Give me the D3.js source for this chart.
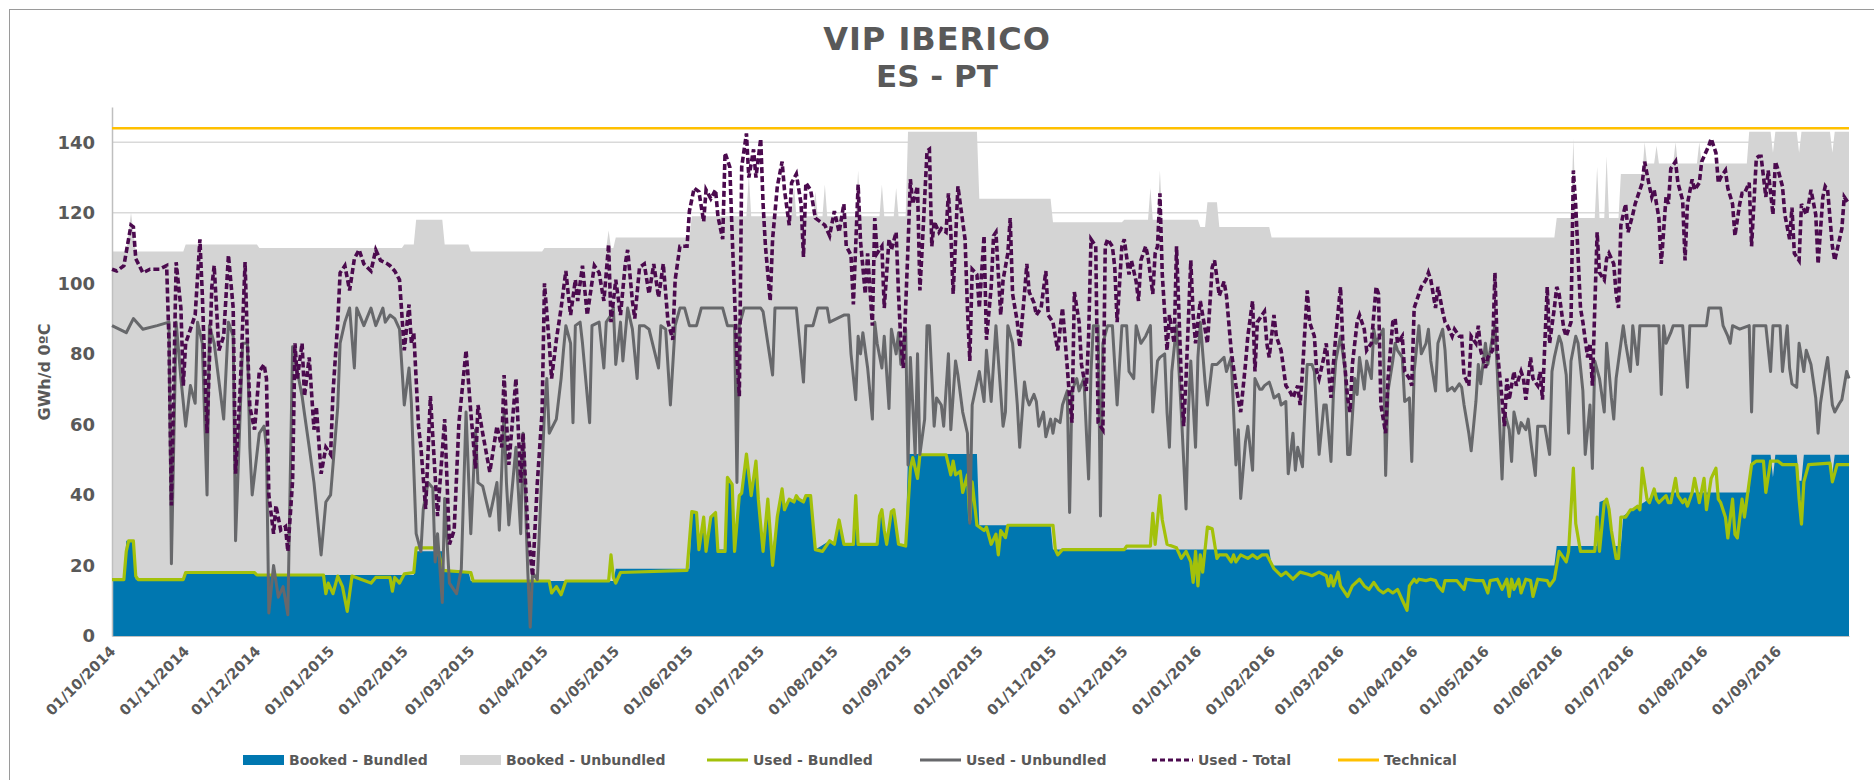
<!DOCTYPE html>
<html>
<head>
<meta charset="utf-8">
<script src="https://cdn.jsdelivr.net/npm/d3@7"></script>
<style>
  body { margin: 0; background: #fff; }
  #chart text { font-family: "DejaVu Sans", Verdana, sans-serif; font-weight: bold; fill: #595959; }
</style>
</head>
<body>
<div id="chart"></div>
<script>
// every series is a list of [day, value] with day counted from 01/10/2014, values in GWh/d
const startDate = new Date(2014, 9, 1);
const endDate = new Date(2016, 9, 1);

const tickLabels = ["01/10/2014", "01/11/2014", "01/12/2014", "01/01/2015", "01/02/2015", "01/03/2015",
  "01/04/2015", "01/05/2015", "01/06/2015", "01/07/2015", "01/08/2015", "01/09/2015",
  "01/10/2015", "01/11/2015", "01/12/2015", "01/01/2016", "01/02/2016", "01/03/2016",
  "01/04/2016", "01/05/2016", "01/06/2016", "01/07/2016", "01/08/2016", "01/09/2016"];
const yTicks = [0, 20, 40, 60, 80, 100, 120, 140];

const technical = 144;

// top of the stacked booked area (bundled + unbundled)
const bookedTotal = [[0,109],[6,109],[8,120],[10,109],[30,109],[31,111],[61,111],[62,110],[122,110],[123,111],[127,111],[128,118],[139,118],[140,111],[150,111],[151,109],[181,109],[182,110],[208,110],[209,115],[210,110],[211,110],[212,113],[243,113],[244,119],[267,119],[268,131],[269,119],[286,119],[287,128],[288,119],[295,119],[296,126],[297,119],[299,119],[300,128],[301,119],[313,119],[314,132],[315,119],[323,119],[324,128],[325,119],[329,119],[330,127],[331,119],[334,119],[335,143],[364,143],[365,124],[395,124],[396,117.3],[425,117.3],[426,118],[436,118],[437,127],[438,118],[440,118],[441,132],[442,118],[457,118],[458,116],[460,116],[461,123],[465,123],[466,116],[487,116],[488,113],[607,113],[608,118.5],[614,118.5],[615,141],[616,118.5],[624,118.5],[625,133],[626,118.5],[628,118.5],[629,136],[630,118.5],[634,118.5],[635,131],[644,131],[645,140],[646,134],[649,134],[650,139],[651,134],[657,134],[658,140],[659,134],[667,134],[668,140],[669,134],[688,134],[689,143],[698,143],[699,137],[700,143],[709,143],[710,137],[711,143],[723,143],[724,137],[725,143],[731,143]];

const bookedBundled = [[0,16],[5,16],[6,27],[9,27],[10,16],[30,16],[31,18],[60,18],[61,17.3],[127,17.3],[128,24],[139,24],[140,18.3],[150,18.3],[151,15.6],[211,15.6],[212,19.1],[243,19.1],[244,35.3],[246,35],[247,24.5],[249,33.7],[250,24.5],[252,33.7],[254,35],[255,24.5],[258,24.5],[259,45],[261,43],[262,24.5],[264,39.8],[265,40.5],[267,51.6],[269,39.8],[271,49.6],[272,38.8],[274,24.5],[276,38.8],[278,24.5],[280,33.9],[282,41.7],[283,35.8],[285,38.8],[287,38],[288,39.8],[289,38.8],[291,38],[292,39.8],[294,39.8],[296,24.5],[302,27],[304,26],[306,32.9],[308,26],[312,26],[313,39.8],[314,26],[322,26],[323,34],[324,35.8],[325,30],[326,26],[328,35.3],[329,35.8],[331,26],[334,26],[335,51.6],[364,51.6],[365,31.4],[395,31.4],[396,24.5],[487,24.5],[488,20],[607,20],[608,25.5],[625,25.5],[626,38],[629,38.8],[630,36],[631,30],[632,25.5],[635,25.5],[636,34],[640,36],[645,38],[650,40.7],[689,40.7],[690,51.4],[698,51.4],[699,45],[700,51.4],[709,51.4],[710,44],[711,44],[712,51.4],[723,51.4],[724,46],[725,51.4],[731,51.4]];

const usedBundled = [[0,16],[5,16],[6,24],[7,27],[9,27],[10,17],[11,16],[30,16],[31,18],[60,18],[61,17.3],[89,17.3],[90,12],[91,15],[93,12],[95,17],[97,14],[99,7],[101,17],[109,15],[111,16.6],[117,16.6],[118,12.7],[119,16.6],[121,15],[123,17.6],[127,18],[128,25],[137,25],[138,22],[139,18.6],[151,18],[152,15.6],[184,15.6],[185,12.2],[187,14],[189,11.7],[191,15.6],[209,15.6],[210,23],[211,16.6],[212,15],[214,18],[242,18.6],[244,35.3],[246,35],[247,24.5],[249,33.7],[250,24],[252,33.7],[254,35],[255,24],[258,24],[259,45],[261,43],[262,24],[264,39.8],[265,40.5],[267,51.6],[269,39.8],[271,49.6],[272,38.8],[274,24],[276,38.8],[278,20],[280,33.9],[282,41.7],[283,35.8],[285,38.8],[287,38],[288,39.8],[289,38.8],[291,38],[292,39.8],[294,39.8],[296,24.5],[299,24],[302,27],[304,26],[306,32.9],[308,26],[312,26],[313,39.8],[314,26],[322,26],[323,34],[324,35.8],[325,30],[326,26],[328,35.3],[329,35.8],[331,26],[334,25.5],[336,47.6],[337,50.6],[339,44.7],[340,51.4],[351,51.4],[353,45.7],[354,49.6],[355,45.7],[357,46.7],[358,40.7],[360,45.7],[361,32.9],[362,43.7],[364,31.4],[367,29.9],[368,30.9],[370,26],[372,28.9],[373,23],[374,29.9],[376,27.9],[377,31.4],[396,31.4],[397,24.5],[398,23],[400,24.5],[426,24.5],[427,25.5],[437,25.5],[438,34.8],[439,26],[441,39.8],[442,32.9],[444,26],[448,25],[450,22],[452,24],[454,21],[455,15.2],[456,24],[457,14.2],[458,23],[459,18.1],[461,30.9],[463,30.4],[465,22],[466,23],[469,23],[471,21],[472,23],[473,21],[475,23],[478,22],[480,23],[482,22],[484,23],[486,23],[489,19.1],[492,17.1],[494,18.1],[497,16.1],[500,18.1],[503,17.6],[505,17.1],[508,18.1],[511,17.1],[512,14.2],[513,17.1],[514,14.2],[516,18.1],[517,14.2],[520,11.2],[522,14.2],[525,16.1],[527,14.2],[529,13.2],[531,15.2],[533,13.2],[535,12.2],[537,13.2],[539,12.2],[541,13.2],[543,10.2],[545,7.3],[546,14.2],[548,16.1],[549,15.2],[550,16.1],[553,15.7],[555,16.1],[557,15.7],[558,14.2],[560,12.7],[561,15.7],[566,15.7],[569,13.2],[570,16.1],[574,15.7],[577,15.7],[579,12.2],[580,15.7],[583,16.1],[585,13.2],[587,16.1],[588,11.2],[589,16.1],[590,13.2],[592,16.1],[593,12.2],[595,16.1],[597,15.7],[598,11.2],[600,16.1],[604,15.7],[605,14.2],[607,16.1],[608,20],[609,24],[611,22],[612,21],[613,24],[615,47.6],[616,31.9],[618,24],[624,24],[625,33.7],[626,24],[628,37.8],[629,38.8],[630,36],[631,30],[633,22],[634,22],[635,33.7],[637,33.7],[639,35.8],[640,35.8],[642,36.8],[643,35.8],[644,47.6],[646,38.8],[647,37.8],[649,41.7],[650,38.8],[651,37.8],[654,39.8],[655,37.8],[656,37.8],[658,44.7],[659,39.8],[661,37.8],[662,38.8],[663,36.8],[665,40.7],[666,44.7],[668,37.8],[670,44.7],[671,35.8],[673,44.7],[675,47.6],[676,38.8],[677,37.8],[679,33.7],[680,27.8],[682,38.8],[683,28.8],[684,27.8],[686,38.8],[687,33.7],[689,43.7],[690,48.6],[692,49.6],[695,49.6],[696,40.7],[698,49.6],[701,49.6],[703,48.6],[709,48.6],[710,38.8],[711,31.7],[712,43.7],[714,48.6],[723,49],[724,43.7],[726,48.6],[731,48.6]];

const usedUnbundled = [[0,88],[3,87],[6,86],[9,90],[13,87],[19,88],[24,89],[25,20.5],[27,89],[29,73],[31,59.5],[33,71],[35,66],[36,89],[38,83],[40,40],[41,88],[43,83],[47,61.5],[49,89],[51,85],[52,27],[55,83],[57,83],[58,53.5],[59,40],[62,57.5],[64,59.5],[65,53.5],[66,6.5],[68,20],[70,11],[72,14],[74,6],[76,82],[78,75],[80,68],[81,63],[83,53.5],[85,43.5],[88,23],[90,38],[92,40],[95,65],[96,83],[98,89],[100,93],[102,76],[103,93],[106,88],[109,93],[111,88],[114,93],[115,89],[117,91],[119,90],[121,87],[123,65.5],[125,76],[126,66],[128,29],[130,24],[131,36],[133,43.5],[135,42],[136,21],[137,29],[139,9.5],[140,39],[142,15],[145,12],[147,19],[149,63.5],[151,29],[153,58.5],[154,43.5],[156,42.5],[159,34],[162,43.5],[163,30],[165,63.5],[166,43.5],[167,31.5],[170,53.5],[172,29],[173,57.5],[175,18],[176,2.5],[177,18],[179,16],[182,63.5],[183,73],[184,57.5],[187,61.5],[189,73],[190,81],[191,88],[193,83],[194,60.5],[195,88],[197,89],[198,83],[201,60.5],[202,88],[205,89],[207,76],[208,89],[210,91],[211,93],[212,77],[214,89],[215,78],[217,93],[219,87],[221,73],[222,88],[224,88],[226,87],[230,76],[231,88],[233,87],[235,65.5],[237,88],[239,93],[241,93],[243,88],[246,88],[248,93],[257,93],[259,88],[262,88],[263,43.5],[264,88],[266,93],[273,93],[274,92],[276,83],[278,74],[279,93],[288,93],[290,79],[291,72],[292,88],[295,88],[297,93],[301,93],[302,89],[305,90],[308,91],[310,91],[311,80],[313,67],[314,85],[315,80],[316,86],[318,76],[320,61.5],[321,89],[322,83],[324,76],[325,85],[327,64.5],[328,87],[330,80],[331,86],[332,77],[334,87],[335,48.5],[336,79],[338,51.5],[339,80],[340,51.5],[342,61.5],[343,88],[344,88],[346,59.5],[347,67.5],[349,65.5],[350,59.5],[352,80],[353,58.5],[355,78],[356,74],[358,63.5],[360,57.5],[361,32],[362,65.5],[365,75],[367,66.5],[368,81],[370,66.5],[372,88],[375,59.5],[376,63.5],[377,88],[379,83],[381,65.5],[382,53.5],[384,72],[385,67.5],[386,65.5],[388,68.5],[389,66.5],[390,59.5],[392,63.5],[393,56.5],[395,61.5],[396,57.5],[397,61.5],[399,60.5],[400,65.5],[402,69.5],[403,35],[404,69.5],[406,73],[407,69.5],[409,73],[411,44.5],[412,75],[413,88],[415,88],[416,34],[417,83],[419,88],[421,88],[423,65.5],[425,88],[427,88],[428,75],[430,73],[431,88],[433,83],[435,85],[437,88],[438,63.5],[440,78],[441,79],[443,80],[444,63.5],[445,53.5],[446,75],[448,88],[450,63.5],[452,36],[453,63.5],[454,78],[456,53.5],[457,79],[458,89],[460,72],[461,65.5],[463,77],[465,77],[468,79],[469,75],[471,79],[473,48.5],[474,58.5],[475,39],[477,55],[478,59.5],[480,47],[481,73],[483,70],[484,70],[485,71],[487,72],[488,70],[489,67.5],[491,68.5],[492,65.5],[494,66.5],[495,46],[497,57.5],[498,47],[499,53.5],[501,48],[502,64.5],[503,77],[505,77],[506,75],[508,51.5],[510,65.5],[511,65.5],[513,49.5],[514,68.5],[515,78],[517,85],[519,75],[520,51.5],[521,51.5],[523,73],[524,68.5],[525,79],[527,70],[528,78],[530,73],[531,87],[532,83],[535,87],[536,45.5],[537,69.5],[539,78],[540,83],[541,81],[543,79],[544,66.5],[546,67.5],[547,49.5],[548,75],[550,88],[551,80],[553,83],[554,87],[555,78],[557,69.5],[558,83],[560,87],[561,81],[562,69.5],[564,70.5],[565,69.5],[567,71.5],[568,70.5],[569,65.5],[571,57.5],[572,52.5],[574,66.5],[575,77],[576,71.5],[578,83],[579,77],[581,85],[582,88],[583,75],[585,44.5],[586,63.5],[588,58.5],[589,49.5],[590,63.5],[592,57.5],[593,60.5],[595,58.5],[596,61.5],[597,55.5],[599,45.5],[600,59.5],[602,59.5],[603,59.5],[605,51.5],[606,75],[607,79],[609,85],[610,83],[612,74],[613,57.5],[614,78],[616,85],[617,83],[619,69.5],[620,51.5],[622,65.5],[623,47.5],[624,78],[626,73],[628,63.5],[629,83],[631,67.5],[632,61.5],[633,73],[635,83],[636,88],[637,83],[639,75],[640,88],[642,77],[643,88],[651,88],[652,68.5],[653,88],[654,83],[656,86],[657,88],[661,88],[663,70.5],[664,88],[671,88],[672,93],[677,93],[678,88],[680,85],[681,83],[682,88],[685,87],[689,88],[690,63.5],[691,88],[696,88],[698,75],[699,88],[702,88],[703,75],[705,88],[706,76],[707,71.5],[709,70.5],[710,83],[712,75],[713,81],[715,77],[717,67.5],[718,57.5],[719,66],[721,75],[722,79],[724,65.5],[725,63.5],[727,66],[728,67],[730,75],[731,73]];

const usedTotal = [[0,104],[2,103.5],[5,105],[8,116.5],[9,116],[10,107],[13,103],[16,104],[20,104],[23,105],[24,83],[25,37],[27,106],[29,93],[30,71],[31,83],[33,87],[35,91],[37,112.5],[38,97],[40,57.5],[42,99],[43,105],[45,81],[47,85],[49,108],[51,93],[52,46],[54,71],[56,106],[57,83],[58,65],[60,58.5],[62,75],[64,77],[65,73],[66,40],[68,29],[69,37],[71,30],[73,31],[74,24],[76,44],[77,83],[78,73],[80,83],[81,68],[83,79],[85,58.5],[86,65],[88,46],[90,53.5],[92,51.5],[93,69],[95,89],[96,103],[98,105],[100,98],[102,107],[104,109.5],[106,105.5],[109,103.5],[111,109.5],[113,106.5],[116,105.5],[117,105],[119,103.5],[121,101],[123,81],[125,94],[126,83],[127,86],[129,59.5],[130,53.5],[132,36],[134,68],[137,34],[140,61.5],[142,26],[144,30],[146,60.5],[149,81],[151,63.5],[153,47.5],[154,65.5],[156,57.5],[159,46.5],[162,59.5],[164,53.5],[165,74],[167,48.5],[170,73],[172,43.5],[173,57.5],[175,30],[177,17],[179,43.5],[181,63.5],[182,100],[184,83],[185,73],[187,84],[189,93],[191,103.5],[192,97],[193,91],[195,101],[196,95],[198,105],[200,91],[203,105],[205,103],[207,95],[209,111],[210,89],[212,101],[214,91],[216,105.5],[217,109.5],[219,95],[220,90],[222,104.5],[224,105.5],[226,97],[228,105.5],[230,96],[232,105.5],[234,89],[236,84],[237,101],[239,110.5],[242,110.5],[243,120.5],[245,127],[247,126],[249,117.5],[250,126.5],[252,124],[254,126.5],[255,119],[257,112.5],[258,137],[260,133],[261,113.5],[263,79],[264,68],[265,133],[267,142.5],[268,130],[270,138],[271,130],[273,141],[274,122.5],[275,110.5],[277,95],[278,112.5],[280,127.5],[282,134.5],[283,126.5],[285,116.5],[286,128.5],[288,131],[290,122.5],[291,107.5],[292,128.5],[294,126.5],[296,118.5],[298,117.5],[300,116.5],[302,113.5],[304,120.5],[306,114.5],[308,122.5],[309,110.5],[311,108],[312,94],[314,128],[315,112],[317,97],[318,108.5],[320,88],[321,118.5],[322,108.5],[324,110.5],[325,93],[327,112.5],[328,109.5],[330,114.5],[331,97],[332,83],[333,76],[335,110.5],[336,129.5],[337,122.5],[339,127.5],[340,98],[341,110.5],[343,137.5],[344,138],[345,110.5],[346,117.5],[348,114.5],[349,115.5],[351,114.5],[352,125.5],[353,114.5],[354,97],[356,127.5],[358,117.5],[359,112.5],[360,93],[361,78],[362,104],[364,102.5],[365,93],[367,113.5],[368,84],[370,99],[371,113.5],[372,114.5],[374,91],[375,101],[377,108.5],[378,118.5],[379,97],[381,89],[382,82],[384,97],[385,105.5],[386,97.5],[388,94.5],[389,91],[391,93],[393,103.5],[394,91],[396,89],[397,85],[398,81],[400,93],[401,85],[403,67.5],[404,60.5],[405,97.5],[407,89],[408,77],[410,69.5],[411,85],[412,112.5],[414,110.5],[415,60.5],[417,58.5],[418,110.5],[419,112.5],[421,110.5],[422,104.5],[423,89],[425,110.5],[426,112.5],[428,102.5],[429,106.5],[431,100.5],[432,95],[433,106.5],[435,110.5],[436,107.5],[438,97],[439,108.5],[440,110.5],[441,125.5],[442,102.5],[444,81],[445,91],[447,83],[448,110.5],[450,73],[451,59.5],[452,73],[454,106.5],[455,91],[456,83],[458,95],[459,91],[461,83],[463,104.5],[464,106.5],[466,96.5],[468,100.5],[469,96.5],[471,81],[473,71],[474,67],[475,63.5],[477,77],[478,85],[480,95],[481,75],[482,89],[485,92],[486,83],[487,79],[489,91],[490,85],[492,81],[493,76],[494,71],[496,69],[497,67.5],[499,71],[500,65.5],[501,75],[503,98],[504,89],[506,85],[507,75],[508,73],[510,79],[511,83],[513,67.5],[514,77],[515,85],[517,99],[518,83],[520,67.5],[521,63.5],[522,77],[524,89],[525,91],[527,87],[528,81],[530,83],[532,99],[533,97],[534,65.5],[536,57.5],[537,73],[539,89],[540,90],[541,83],[543,85],[544,75],[546,73],[547,71],[548,93],[550,97],[551,99],[553,101],[554,103],[555,101],[557,93],[558,99],[560,92],[561,89],[562,88],[564,85],[565,87],[567,85],[568,85],[569,74],[571,71],[572,85],[574,83],[575,88],[576,81],[578,76],[579,79],[581,81],[582,103],[583,81],[585,67],[586,59.5],[587,73],[588,67],[590,75],[591,71],[593,75],[594,73],[595,67],[597,79],[598,73],[600,71],[601,75],[602,67],[604,99],[605,83],[607,93],[608,99],[609,97],[611,87],[612,85],[614,89],[615,132],[616,122],[618,93],[619,89],[621,79],[622,83],[623,71],[625,114.5],[626,103],[628,101],[629,107],[630,108.5],[632,105.5],[633,97],[634,93],[635,116.5],[637,122.5],[638,114.5],[640,119.5],[641,122.5],[642,124.5],[644,128.5],[645,134.5],[647,127.5],[648,124.5],[649,126.5],[651,118.5],[652,105.5],[654,124.5],[655,122.5],[656,132.5],[658,134.5],[659,128.5],[661,123.5],[662,106.5],[663,122.5],[665,129.5],[666,126.5],[668,128.5],[669,134.5],[670,136],[672,139],[673,141],[675,137],[676,128.5],[677,130],[679,132],[680,127],[682,122.5],[683,113.5],[685,122.5],[686,125.5],[687,125.5],[689,128.5],[690,110.5],[692,135.5],[693,136],[694,136],[696,124.5],[697,132],[699,119.5],[700,134.5],[701,132.5],[703,127.5],[704,119.5],[706,112.5],[707,121.5],[708,108.5],[710,106.5],[711,122.5],[713,119.5],[714,122.5],[715,126.5],[717,119.5],[718,105.5],[720,124.5],[721,127.5],[722,126.5],[724,110.5],[725,106.5],[727,112.5],[728,115.5],[729,124.5],[731,122.5]];

const legendLabels = ["Booked - Bundled", "Booked - Unbundled", "Used - Bundled", "Used - Unbundled", "Used - Total", "Technical"];
const legendKinds = ["area", "area", "line", "line", "dash", "line"];
const colors = ["#0077b0", "#d4d4d4", "#a3c10a", "#67686b", "#4b0a4e", "#ffc000"];

const width = 1874, height = 780;
const margin = {top: 107, right: 25, bottom: 144, left: 112};

const svg = d3.select("#chart").append("svg")
  .attr("width", width)
  .attr("height", height);

// outer frame
svg.append("rect")
  .attr("x", 9.5).attr("y", 9.5)
  .attr("width", width).attr("height", height)
  .attr("fill", "none")
  .attr("stroke", "#9a9a9a");

// title
svg.append("text").attr("x", 937).attr("y", 50)
  .attr("text-anchor", "middle").style("font-size", "32px").style("letter-spacing", "1px")
  .text("VIP IBERICO");
svg.append("text").attr("x", 937).attr("y", 87)
  .attr("text-anchor", "middle").style("font-size", "31px")
  .text("ES - PT");

const x = d3.scaleTime()
  .domain([startDate, endDate])
  .range([margin.left, width - margin.right]);
const y = d3.scaleLinear()
  .domain([0, 150])
  .range([height - margin.bottom, margin.top]);

const day = d => d3.timeDay.offset(startDate, d[0]);

// gridlines
svg.append("g")
  .selectAll("line")
  .data(yTicks.filter(t => t > 0))
  .join("line")
    .attr("x1", margin.left).attr("x2", width - margin.right)
    .attr("y1", d => y(d)).attr("y2", d => y(d))
    .attr("stroke", "#d9d9d9").attr("stroke-width", 1.5);

// booked areas
const area = d3.area()
  .x(d => x(day(d)))
  .y0(y(0))
  .y1(d => y(d[1]));

svg.append("path").datum(bookedTotal)
  .attr("d", area).attr("fill", colors[1]);
svg.append("path").datum(bookedBundled)
  .attr("d", area).attr("fill", colors[0]);

// y axis
const yAxis = svg.append("g")
  .attr("transform", `translate(${margin.left},0)`)
  .call(d3.axisLeft(y).tickValues(yTicks).tickSize(0).tickPadding(17));
yAxis.select(".domain").attr("stroke", "#bfbfbf").attr("stroke-width", 1.5);
yAxis.selectAll("text").style("font-size", "18px");

// x axis
const monthDates = tickLabels.map(t => d3.timeParse("%d/%m/%Y")(t));
const xAxis = svg.append("g")
  .attr("transform", `translate(0,${y(0)})`)
  .call(d3.axisBottom(x).tickValues(monthDates).tickFormat(d3.timeFormat("%d/%m/%Y")).tickSize(0));
xAxis.select(".domain").attr("stroke", "#bfbfbf");
xAxis.selectAll("text")
  .style("font-size", "14.5px")
  .attr("text-anchor", "end")
  .attr("dy", null)
  .attr("y", 0)
  .attr("transform", "translate(4,16) rotate(-45)");

svg.append("text")
  .attr("transform", "translate(50,372) rotate(-90)")
  .attr("text-anchor", "middle")
  .style("font-size", "16px")
  .text("GWh/d 0ºC");

// used lines
const line = d3.line()
  .x(d => x(day(d)))
  .y(d => y(d[1]));

svg.append("path").datum(usedBundled)
  .attr("d", line).attr("fill", "none")
  .attr("stroke", colors[2]).attr("stroke-width", 3.2).attr("stroke-linejoin", "round");
svg.append("path").datum(usedUnbundled)
  .attr("d", line).attr("fill", "none")
  .attr("stroke", colors[3]).attr("stroke-width", 3).attr("stroke-linejoin", "round");
svg.append("path").datum(usedTotal)
  .attr("d", line).attr("fill", "none")
  .attr("stroke", colors[4]).attr("stroke-width", 3.6)
  .attr("stroke-dasharray", "6,3");

svg.append("line")
  .attr("x1", margin.left).attr("x2", width - margin.right)
  .attr("y1", y(technical)).attr("y2", y(technical))
  .attr("stroke", colors[5]).attr("stroke-width", 2.5);

// legend
const legendX = [243, 460, 707, 920, 1152, 1338];
const legend = svg.append("g").attr("transform", "translate(0,760)");
legendLabels.forEach((label, i) => {
  const g = legend.append("g").attr("transform", `translate(${legendX[i]},0)`);
  if (legendKinds[i] === "area") {
    g.append("rect").attr("x", 0).attr("y", -5).attr("width", 41).attr("height", 10).attr("fill", colors[i]);
  } else {
    g.append("line").attr("x1", 0).attr("x2", 41).attr("y1", 0).attr("y2", 0)
      .attr("stroke", colors[i]).attr("stroke-width", 3)
      .attr("stroke-dasharray", legendKinds[i] === "dash" ? "5,3" : null);
  }
  g.append("text").attr("x", 46).attr("dy", "0.35em")
    .style("font-size", "14px")
    .text(label);
});
</script>
</body>
</html>
